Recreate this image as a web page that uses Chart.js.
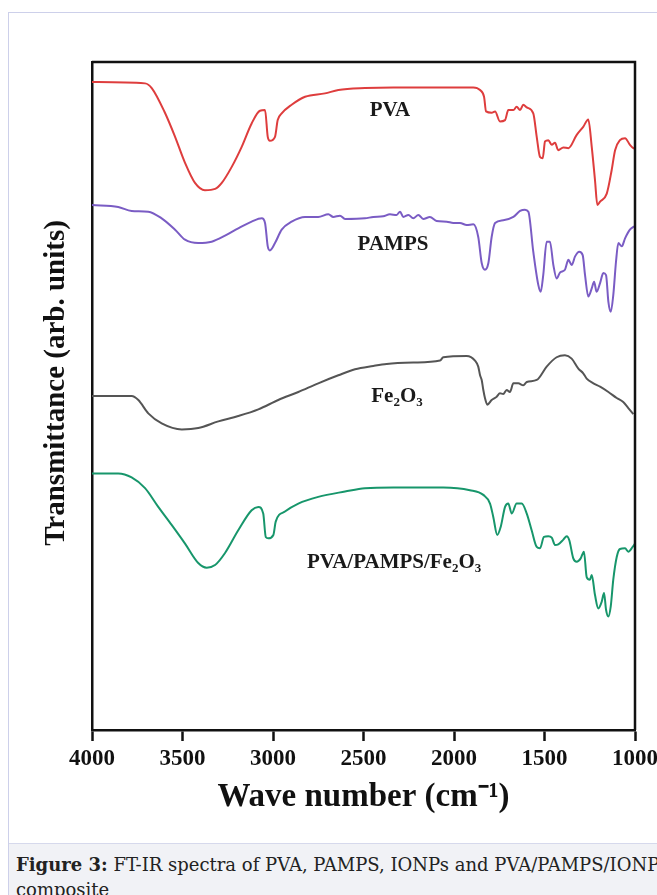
<!DOCTYPE html>
<html>
<head>
<meta charset="utf-8">
<script src="https://cdn.jsdelivr.net/npm/chart.js@4/dist/chart.umd.min.js"></script>
<style>
  html, body { margin: 0; padding: 0; background: #fff; overflow: hidden; }
  body { width: 657px; height: 895px; position: relative; }
  .frame { position: absolute; left: 8px; top: 12px; width: 720px; height: 900px;
           border-left: 1px solid #cdd0ea; border-top: 1px solid #cdd0ea; }
  #spectra { position: absolute; left: 0; top: 0; }
  .caption { position: absolute; left: 9px; top: 843px; width: 720px; height: 60px;
             background: #f1f2f6; border-top: 1px solid #d6d9ec;
             font-family: "DejaVu Serif", serif;
             font-size: 18px; line-height: 25px; color: #222; padding: 8px 0 0 7px;
             white-space: nowrap; box-sizing: border-box; }
  .caption b { font-weight: bold; }
</style>
</head>
<body>
<div class="frame"></div>
<canvas id="spectra" width="657" height="843"></canvas>
<div class="caption"><b>Figure 3:</b> FT-IR spectra of PVA, PAMPS, IONPs and PVA/PAMPS/IONPs<br>composite</div>
<script>
// wave number (cm-1) and transmittance (arb. units, offset traces)
const xTicks = [4000, 3500, 3000, 2500, 2000, 1500, 1000];

const pvaWn = [4000, 3707, 3670, 3597, 3541, 3486, 3431, 3376, 3320, 3283, 3228, 3173, 3118, 3072, 3044, 3029,
  3017, 2989, 2974, 2952, 2897, 2823, 2713, 2639, 2492, 2335, 2151, 1893, 1856, 1834, 1823, 1792, 1773, 1746,
  1718, 1700, 1672, 1654, 1635, 1617, 1598, 1562, 1543, 1525, 1510, 1497, 1479, 1460, 1442, 1424, 1396, 1368,
  1322, 1286, 1258, 1239, 1221, 1208, 1193, 1156, 1129, 1110, 1083, 1055, 1028, 1009, 1000];
const pvaT = [97.0, 96.8, 96.1, 92.4, 88.8, 84.9, 81.9, 80.8, 81.0, 81.9, 84.3, 87.3, 90.8, 92.7, 92.8, 88.8,
  88.2, 88.8, 91.3, 92.3, 93.6, 94.8, 95.3, 95.8, 96.1, 96.2, 96.2, 96.2, 95.8, 94.8, 92.6, 92.4, 92.6, 91.1,
  91.3, 92.8, 92.8, 93.3, 92.8, 93.6, 93.2, 92.3, 88.8, 85.8, 85.6, 88.1, 88.3, 87.6, 87.9, 86.8, 87.2, 87.1,
  89.1, 90.3, 91.4, 87.3, 82.3, 78.6, 79.1, 80.3, 83.8, 86.8, 88.3, 88.6, 87.6, 87.1, 87.0];

const pampsWn = [4000, 3855, 3781, 3689, 3615, 3541, 3486, 3413, 3339, 3265, 3192, 3118, 3062, 3044, 3029, 3017,
  2989, 2952, 2897, 2823, 2750, 2694, 2667, 2630, 2602, 2492, 2446, 2391, 2354, 2317, 2298, 2280, 2252, 2225,
  2197, 2170, 2133, 2096, 2040, 2004, 1967, 1930, 1893, 1866, 1847, 1829, 1810, 1792, 1773, 1728, 1672, 1635,
  1608, 1589, 1562, 1534, 1521, 1507, 1488, 1470, 1451, 1433, 1414, 1387, 1368, 1350, 1331, 1308, 1289, 1276,
  1258, 1239, 1226, 1212, 1193, 1175, 1160, 1147, 1134, 1120, 1105, 1092, 1073, 1055, 1028, 1005];
const pampsT = [78.6, 78.3, 77.7, 77.6, 76.6, 74.9, 73.4, 72.9, 73.1, 74.0, 75.1, 76.1, 76.6, 75.9, 72.4, 71.8,
  72.9, 74.9, 76.1, 76.8, 76.8, 77.2, 76.8, 77.0, 76.5, 76.6, 76.8, 76.9, 77.2, 77.1, 77.6, 76.8, 77.1, 76.6,
  77.1, 76.5, 76.8, 76.2, 76.1, 75.9, 75.9, 75.6, 75.7, 73.8, 69.9, 68.9, 69.9, 73.8, 75.9, 76.3, 76.8, 77.7,
  77.9, 77.6, 71.6, 66.6, 65.6, 68.1, 73.1, 73.1, 69.6, 67.6, 68.5, 68.9, 70.4, 69.6, 70.9, 71.6, 71.1, 68.1,
  64.9, 66.1, 67.1, 65.6, 66.9, 68.4, 68.1, 64.1, 62.6, 65.1, 70.1, 72.9, 72.4, 73.6, 74.9, 75.4];

const feWn = [4000, 3781, 3744, 3689, 3615, 3504, 3413, 3302, 3192, 3081, 2971, 2860, 2750, 2639, 2547, 2446,
  2372, 2225, 2077, 2059, 1930, 1884, 1866, 1856, 1847, 1838, 1829, 1816, 1792, 1764, 1746, 1728, 1709, 1691,
  1672, 1645, 1617, 1598, 1543, 1488, 1433, 1387, 1350, 1313, 1286, 1267, 1230, 1193, 1147, 1101, 1065, 1037, 1009];
const feT = [50.0, 50.0, 49.4, 47.4, 45.9, 45.0, 45.2, 46.2, 47.0, 48.0, 49.4, 50.6, 51.9, 53.1, 54.0, 54.5,
  54.8, 55.0, 55.3, 55.8, 56.0, 55.3, 54.4, 53.1, 52.4, 50.9, 49.7, 48.7, 49.4, 49.9, 50.4, 50.3, 50.9, 50.6,
  51.9, 51.9, 51.6, 52.1, 52.4, 54.4, 55.8, 56.1, 55.6, 54.1, 53.4, 52.6, 51.9, 51.4, 50.6, 49.7, 49.1, 48.2, 47.3];

const compWn = [4000, 3855, 3781, 3707, 3634, 3560, 3486, 3413, 3366, 3320, 3265, 3192, 3118, 3081, 3054, 3040,
  3026, 2998, 2985, 2934, 2860, 2750, 2602, 2492, 2335, 2059, 1912, 1838, 1801, 1783, 1761, 1742, 1718, 1700,
  1681, 1654, 1626, 1598, 1571, 1543, 1525, 1503, 1479, 1460, 1442, 1424, 1396, 1377, 1363, 1341, 1322, 1300,
  1282, 1267, 1249, 1239, 1221, 1203, 1184, 1171, 1160, 1147, 1134, 1120, 1101, 1083, 1055, 1037, 1013, 1000];
const compT = [38.4, 38.4, 37.8, 36.2, 33.4, 30.7, 27.9, 25.0, 24.3, 24.7, 26.5, 29.9, 32.9, 33.4, 32.4, 28.9,
  28.7, 29.2, 31.2, 32.7, 33.9, 34.9, 35.7, 36.2, 36.3, 36.3, 35.9, 35.2, 33.9, 31.9, 29.2, 30.4, 33.4, 33.9,
  32.4, 33.9, 33.9, 32.4, 29.9, 27.4, 27.2, 28.9, 29.0, 28.8, 27.7, 27.8, 28.5, 29.0, 28.4, 25.7, 25.2, 25.7,
  26.7, 22.9, 22.5, 23.2, 20.2, 18.2, 19.2, 20.5, 18.0, 17.0, 18.5, 22.5, 25.9, 27.1, 27.2, 26.7, 27.4, 27.9];

const seriesNames = ['PVA', 'PAMPS', 'Fe2O3', 'PVA/PAMPS/Fe2O3'];
const seriesColors = ['#de3d3d', '#7a5cc4', '#555555', '#17966b'];

function pairs(wn, t) {
  return wn.map((w, i) => ({ x: w, y: t[i] }));
}

// text pieces for the in-plot labels, [text, subscript?]
const labelParts = [
  [['PVA', false]],
  [['PAMPS', false]],
  [['Fe', false], ['2', true], ['O', false], ['3', true]],
  [['PVA/PAMPS/Fe', false], ['2', true], ['O', false], ['3', true]]
];
const labelAt = [
  { x: 2354, y: 92.7 },
  { x: 2337, y: 72.6 },
  { x: 2315, y: 49.9 },
  { x: 2331, y: 25.1 }
];

const serif = '"Liberation Serif", "Times New Roman", serif';

const boxAndLabels = {
  id: 'boxAndLabels',
  afterDraw(chart) {
    const ctx = chart.ctx;
    const a = chart.chartArea;
    ctx.save();
    ctx.strokeStyle = '#111';
    ctx.lineWidth = 2.5;
    ctx.beginPath();
    ctx.moveTo(a.left, a.top);
    ctx.lineTo(a.right, a.top);
    ctx.lineTo(a.right, a.bottom);
    ctx.stroke();

    // y axis title, a little above the plot's middle as in the figure
    ctx.save();
    ctx.translate(57, 383);
    ctx.rotate(-Math.PI / 2);
    ctx.font = 'bold 29px ' + serif;
    ctx.fillStyle = '#111';
    ctx.textAlign = 'center';
    ctx.textBaseline = 'middle';
    ctx.fillText('Transmittance (arb. units)', 0, 0);
    ctx.restore();

    ctx.fillStyle = '#1a1a1a';
    ctx.textBaseline = 'middle';
    const big = 'bold 21px ' + serif;
    const small = 'bold 13px ' + serif;
    labelParts.forEach((parts, i) => {
      let w = 0;
      parts.forEach(p => { ctx.font = p[1] ? small : big; w += ctx.measureText(p[0]).width; });
      let x = chart.scales.x.getPixelForValue(labelAt[i].x) - w / 2;
      const y = chart.scales.y.getPixelForValue(labelAt[i].y);
      parts.forEach(p => {
        ctx.font = p[1] ? small : big;
        ctx.fillText(p[0], x, p[1] ? y + 6 : y);
        x += ctx.measureText(p[0]).width;
      });
    });
    ctx.restore();
  }
};

new Chart(document.getElementById('spectra'), {
  type: 'line',
  data: {
    datasets: [
      { label: seriesNames[0], data: pairs(pvaWn, pvaT), borderColor: seriesColors[0] },
      { label: seriesNames[1], data: pairs(pampsWn, pampsT), borderColor: seriesColors[1] },
      { label: seriesNames[2], data: pairs(feWn, feT), borderColor: seriesColors[2] },
      { label: seriesNames[3], data: pairs(compWn, compT), borderColor: seriesColors[3] }
    ]
  },
  options: {
    responsive: false,
    animation: false,
    devicePixelRatio: 1,
    layout: { padding: { top: 62, right: 22, left: 0, bottom: 0 } },
    elements: {
      line: { borderWidth: 2, cubicInterpolationMode: 'monotone', fill: false },
      point: { radius: 0 }
    },
    plugins: { legend: { display: false }, tooltip: { enabled: false } },
    scales: {
      x: {
        type: 'linear',
        reverse: true,
        min: 1000,
        max: 4000,
        afterBuildTicks: s => { s.ticks = xTicks.map(v => ({ value: v })); },
        afterFit: s => { s.height = 113; s.paddingLeft = 0; s.paddingRight = 0; },
        ticks: {
          color: '#111', padding: 4, maxRotation: 0, autoSkip: false,
          font: { family: serif, size: 23, weight: 'bold' },
          callback: v => String(v)
        },
        grid: { drawOnChartArea: false, drawTicks: true, tickLength: 11, tickWidth: 2.5, tickColor: '#111' },
        border: { display: true, color: '#111', width: 2.5 },
        title: {
          display: true, text: 'Wave number (cm⁻¹)', color: '#111',
          font: { family: serif, size: 33, weight: 'bold' },
          padding: { top: 0, bottom: 26 }
        }
      },
      y: {
        min: 0,
        max: 100,
        afterFit: s => { s.width = 92; },
        ticks: { display: false },
        grid: { display: false },
        border: { display: true, color: '#111', width: 2.5 }
      }
    }
  },
  plugins: [boxAndLabels]
});
</script>
</body>
</html>
